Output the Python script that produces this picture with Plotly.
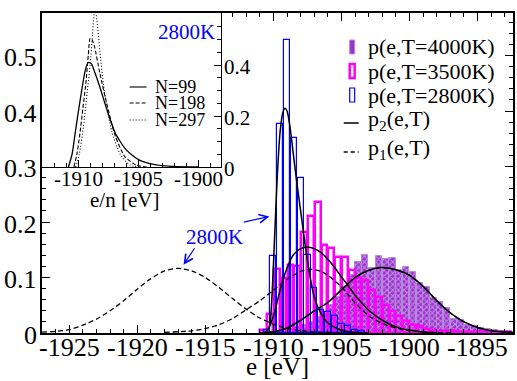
import plotly.graph_objects as go

# ---------------- data ----------------
# histogram 2800K (blue, outline)
e2800 = [-1910.5, -1910.0, -1909.5, -1909.0, -1908.5, -1908.0, -1907.5, -1907.0,
         -1906.5, -1906.0, -1905.5, -1905.0, -1904.5, -1904.0, -1903.5]
h2800 = [0.005, 0.139, 0.376, 0.528, 0.351, 0.279, 0.14, 0.081,
         0.041, 0.038, 0.03, 0.017, 0.012, 0.006, 0.003]

# histogram 3500K (magenta, thick outline)
e3500 = [-1910.75, -1910.25, -1909.75, -1909.25, -1908.75, -1908.25, -1907.75, -1907.25,
         -1906.75, -1906.25, -1905.75, -1905.25, -1904.75, -1904.25, -1903.75, -1903.25,
         -1902.75, -1902.25, -1901.75, -1901.25, -1900.75, -1900.25, -1899.75, -1899.25,
         -1898.75, -1898.25, -1897.75, -1897.25, -1896.75, -1896.25, -1895.75, -1895.25,
         -1894.75, -1894.25, -1893.75, -1893.25, -1892.75]
h3500 = [0.005, 0.035, 0.115, 0.10, 0.122, 0.12, 0.182, 0.211,
         0.236, 0.158, 0.153, 0.137, 0.137, 0.113, 0.10, 0.095,
         0.077, 0.065, 0.05, 0.04, 0.03, 0.022, 0.015, 0.012,
         0.008, 0.006, 0.004, 0.003, 0.003, 0.002, 0.002, 0.002,
         0.002, 0.002, 0.002, 0.002, 0.002]

# histogram 4000K (purple, hatched)
e4000 = [-1908.25, -1907.75, -1907.25, -1906.75, -1906.25, -1905.75, -1905.25, -1904.75,
         -1904.25, -1903.75, -1903.25, -1902.75, -1902.25, -1901.75, -1901.25, -1900.75,
         -1900.25, -1899.75, -1899.25, -1898.75, -1898.25, -1897.75, -1897.25, -1896.75,
         -1896.25, -1895.75, -1895.25, -1894.75, -1894.25, -1893.75, -1893.25, -1892.75]
h4000 = [0.01, 0.015, 0.02, 0.028, 0.035, 0.05, 0.065, 0.083,
         0.104, 0.128, 0.14, 0.117, 0.139, 0.133, 0.135, 0.114,
         0.119, 0.11, 0.09, 0.083, 0.063, 0.056, 0.045, 0.025,
         0.024, 0.014, 0.013, 0.009, 0.008, 0.006, 0.004, 0.003]

# p2 curves (solid)
p2_2800_e = [-1910.6, -1910.3, -1910.1, -1909.9, -1909.7, -1909.5, -1909.3, -1909.15, -1909.0,
             -1908.8, -1908.55, -1908.3, -1908.0, -1907.5, -1907.0, -1906.5, -1906.0, -1905.5,
             -1905.0, -1904.0, -1903.0]
p2_2800_v = [0.0, 0.01, 0.07, 0.18, 0.29, 0.365, 0.398, 0.405, 0.40,
             0.375, 0.325, 0.275, 0.22, 0.13, 0.065, 0.035, 0.018, 0.01,
             0.005, 0.001, 0.0]

p2_3500_e = [-1911.0, -1910.5, -1910.0, -1909.5, -1909.0, -1908.5, -1908.0, -1907.5, -1907.0,
             -1906.5, -1906.0, -1905.5, -1905.0, -1904.5, -1904.0, -1903.5, -1903.0, -1902.0,
             -1901.0, -1900.0, -1899.0, -1898.0]
p2_3500_v = [0.0, 0.003, 0.03, 0.078, 0.117, 0.142, 0.152, 0.155, 0.152,
             0.145, 0.133, 0.118, 0.101, 0.085, 0.068, 0.054, 0.041, 0.023,
             0.011, 0.005, 0.002, 0.0]

p2_4000_e = [-1911.0, -1910.0, -1909.0, -1908.0, -1907.0, -1906.0, -1905.0, -1904.0, -1903.0,
             -1902.1, -1901.0, -1900.0, -1899.0, -1898.0, -1897.0, -1896.0, -1895.0, -1894.0,
             -1893.0, -1892.4]
p2_4000_v = [0.0, 0.002, 0.009, 0.023, 0.040, 0.055, 0.078, 0.10, 0.113,
             0.118, 0.114, 0.104, 0.084, 0.058, 0.036, 0.02, 0.01, 0.004,
             0.002, 0.001]

# p1 curves (dashed)
p1_2800_e = [-1927, -1926, -1925, -1924, -1923, -1922, -1921, -1920, -1919, -1918, -1917,
             -1916, -1915, -1914, -1913, -1912, -1911, -1910, -1909, -1908, -1907, -1905]
p1_2800_v = [0.0015, 0.003, 0.006, 0.014, 0.025, 0.040, 0.058, 0.079, 0.098, 0.112, 0.1166,
             0.112, 0.100, 0.082, 0.062, 0.043, 0.027, 0.016, 0.008, 0.004, 0.002, 0.0]

p1_3500_e = [-1918, -1916, -1915, -1914, -1913, -1912, -1911, -1910, -1909, -1908, -1907.3,
             -1906.5, -1906, -1905, -1904, -1903, -1902, -1901, -1900, -1899, -1897]
p1_3500_v = [0.001, 0.004, 0.008, 0.015, 0.026, 0.042, 0.058, 0.077, 0.097, 0.111, 0.115,
             0.111, 0.104, 0.083, 0.054, 0.031, 0.017, 0.009, 0.004, 0.002, 0.0]

p1_4000_e = [-1911.0, -1910.0, -1909.0, -1908.0, -1907.0, -1906.0, -1905.0, -1904.0, -1903.0,
             -1902.1, -1901.0, -1900.0, -1899.0, -1898.0, -1897.0, -1896.0, -1895.0, -1894.0,
             -1893.0, -1892.4]
p1_4000_v = [0.0, 0.002, 0.009, 0.023, 0.040, 0.055, 0.078, 0.10, 0.113,
             0.118, 0.114, 0.104, 0.084, 0.058, 0.036, 0.02, 0.01, 0.004,
             0.002, 0.001]

# inset curves (2800K, per-atom energy)
n99_e = [-1910.8, -1910.5, -1910.25, -1910.0, -1909.7, -1909.4, -1909.15, -1908.9, -1908.6,
         -1908.2, -1907.6, -1906.9, -1906.0, -1904.9, -1903.5, -1902.1, -1900.0]
n99_v = [0.0, 0.05, 0.13, 0.21, 0.30, 0.38, 0.41, 0.405, 0.37,
         0.315, 0.224, 0.132, 0.067, 0.027, 0.008, 0.002, 0.0]
n198_e = [-1910.35, -1910.1, -1909.85, -1909.6, -1909.35, -1909.15, -1909.0, -1908.85, -1908.65,
          -1908.2, -1907.6, -1906.9, -1906.1, -1905.2, -1904.3]
n198_v = [0.0, 0.05, 0.13, 0.23, 0.33, 0.44, 0.505, 0.50, 0.475,
          0.37, 0.245, 0.12, 0.04, 0.008, 0.0]
n297_e = [-1910.2, -1909.9, -1909.55, -1909.25, -1909.0, -1908.8, -1908.6, -1908.4, -1908.2,
          -1907.8, -1907.2, -1906.5, -1905.7, -1905.1]
n297_v = [0.0, 0.05, 0.16, 0.29, 0.40, 0.52, 0.63, 0.56, 0.46,
          0.29, 0.14, 0.05, 0.008, 0.0]

main_ticks = [-1925, -1920, -1915, -1910, -1905, -1900, -1895]
main_ticktext = ['-1925', '-1920', '-1915', '-1910', '-1905', '-1900', '-1895']
main_yticks = [0, 0.1, 0.2, 0.3, 0.4, 0.5]
main_yticktext = ['0', '0.1', '0.2', '0.3', '0.4', '0.5']
inset_ticks = [-1910, -1905, -1900]
inset_ticktext = ['-1910', '-1905', '-1900']
inset_yticks = [0, 0.2, 0.4]
inset_yticktext = ['0', '0.2', '0.4']

legend_labels = ['p(e,T=4000K)', 'p(e,T=3500K)', 'p(e,T=2800K)',
                 'p<sub>2</sub>(e,T)', 'p<sub>1</sub>(e,T)']
inset_labels = ['N=99', 'N=198', 'N=297']

# ---------------- layout helpers ----------------
W, H = 517, 381
L, R, T, B = 42, 2, 13, 48
PW, PH = W - L - R, H - T - B
FONT = 'Liberation Serif'
BLUE, MAG, PUR = '#0000ff', '#ff00ff', '#9933cc'


def px(x):
    return (x - L) / PW


def py(y):
    return (T + PH - y) / PH


fig = go.Figure()

fig.add_trace(go.Bar(x=e4000, y=h4000, width=0.46, xaxis='x', yaxis='y',
                     marker=dict(color=PUR, line=dict(color='#b48ae0', width=1),
                                 pattern=dict(shape='x', fgcolor='#f3e8fb', size=4, solidity=0.45))))
fig.add_trace(go.Bar(x=e3500, y=h3500, width=0.42, xaxis='x', yaxis='y',
                     marker=dict(color='rgba(0,0,0,0)', line=dict(color=MAG, width=2.5))))
fig.add_trace(go.Bar(x=e2800, y=h2800, width=0.45, xaxis='x', yaxis='y',
                     marker=dict(color='rgba(0,0,0,0)', line=dict(color=BLUE, width=1.2))))

solid = dict(color='black', width=1.5, shape='spline', smoothing=0.6)
dashed = dict(color='black', width=1.3, shape='spline', smoothing=0.6, dash='5px,3px')
for ex, vy in [(p2_2800_e, p2_2800_v), (p2_3500_e, p2_3500_v), (p2_4000_e, p2_4000_v)]:
    fig.add_trace(go.Scatter(x=ex, y=vy, mode='lines', line=solid, xaxis='x', yaxis='y'))
for ex, vy in [(p1_2800_e, p1_2800_v), (p1_3500_e, p1_3500_v), (p1_4000_e, p1_4000_v)]:
    fig.add_trace(go.Scatter(x=ex, y=vy, mode='lines', line=dashed, xaxis='x', yaxis='y'))

fig.add_trace(go.Scatter(x=n99_e, y=n99_v, mode='lines', xaxis='x2', yaxis='y2',
                         line=dict(color='black', width=1.3, shape='spline', smoothing=0.6)))
fig.add_trace(go.Scatter(x=n198_e, y=n198_v, mode='lines', xaxis='x2', yaxis='y2',
                         line=dict(color='black', width=1.1, shape='spline', smoothing=0.6, dash='4px,2px')))
fig.add_trace(go.Scatter(x=n297_e, y=n297_v, mode='lines', xaxis='x2', yaxis='y2',
                         line=dict(color='black', width=1.1, shape='spline', smoothing=0.6, dash='1px,2px')))

axcommon = dict(showgrid=False, zeroline=False, showline=True, linecolor='black',
                ticks='inside', tickcolor='black', tickwidth=1, showticklabels=False)

fig.update_layout(
    width=W, height=H, autosize=False,
    margin=dict(l=L, r=R, t=T, b=B, pad=0),
    paper_bgcolor='white', plot_bgcolor='white',
    showlegend=False, barmode='overlay', bargap=0,
    font=dict(family=FONT, color='black'),
    xaxis=dict(axcommon, domain=[0, 1], anchor='y', range=[-1927, -1892.4],
               tickmode='array', tickvals=main_ticks,
               ticklen=8, linewidth=1.5, mirror='ticks',
               minor=dict(tickmode='linear', tick0=-1925, dtick=1, ticklen=4, ticks='inside',
                          tickcolor='black')),
    yaxis=dict(axcommon, domain=[0, 1], anchor='x', range=[0, PH / 555],
               tickmode='array', tickvals=main_yticks,
               ticklen=8, linewidth=1.5, mirror='ticks',
               minor=dict(tickmode='linear', tick0=0, dtick=0.02, ticklen=4, ticks='inside',
                          tickcolor='black')),
    xaxis2=dict(axcommon, domain=[0, px(222)], anchor='y2', range=[-1913, -1898.1],
                tickmode='array', tickvals=inset_ticks,
                ticklen=7, linewidth=1.2, mirror=True,
                minor=dict(tickmode='linear', tick0=-1910, dtick=1, ticklen=4, ticks='inside',
                           tickcolor='black')),
    yaxis2=dict(axcommon, domain=[py(167), 1], anchor='x2', side='right', range=[0, 154 / 255],
                tickmode='array', tickvals=inset_yticks,
                ticklen=7, linewidth=1.2, mirror=True,
                minor=dict(tickmode='linear', tick0=0, dtick=0.05, ticklen=4, ticks='inside',
                           tickcolor='black')),
)

ann = []
shapes = []

# tick labels (placed through the axes' own data scales)
for v, t in zip(main_ticks, main_ticktext):
    ann.append(dict(text=t, x=v, xref='x', y=py(347), yref='paper', showarrow=False,
                    xanchor='center', yanchor='middle', font=dict(size=26)))
for v, t in zip(main_yticks, main_yticktext):
    ann.append(dict(text=t, x=px(39), xref='paper', y=v, yref='y', yshift=-2, showarrow=False,
                    xanchor='right', yanchor='middle', font=dict(size=26)))
for v, t in zip(inset_ticks, inset_ticktext):
    ann.append(dict(text=t, x=v, xref='x2', y=py(179), yref='paper', showarrow=False,
                    xanchor='center', yanchor='middle', font=dict(size=21)))
for v, t in zip(inset_yticks, inset_yticktext):
    ann.append(dict(text=t, x=px(223), xref='paper', y=v, yref='y2', yshift=-2, showarrow=False,
                    xanchor='left', yanchor='middle', font=dict(size=21)))

# axis titles
ann.append(dict(text='e [eV]', x=px(278), y=py(366), xref='paper', yref='paper',
                showarrow=False, xanchor='center', yanchor='middle', font=dict(size=25)))
ann.append(dict(text='e/n [eV]', x=px(125), y=py(200), xref='paper', yref='paper',
                showarrow=False, xanchor='center', yanchor='middle', font=dict(size=21)))
# 2800K labels
ann.append(dict(text='2800K', x=px(187), y=py(32), xref='paper', yref='paper',
                showarrow=False, xanchor='center', yanchor='middle', font=dict(size=21, color=BLUE)))
ann.append(dict(text='2800K', x=px(215), y=py(237), xref='paper', yref='paper',
                showarrow=False, xanchor='center', yanchor='middle', font=dict(size=21, color=BLUE)))
# arrows
ann.append(dict(text='', x=-1910.3, y=0.21, xref='x', yref='y', ax=-27, ay=6,
                showarrow=True, arrowhead=5, arrowsize=1.4, arrowwidth=1.2, arrowcolor=BLUE))
ann.append(dict(text='', x=-1916.6, y=0.123, xref='x', yref='y', ax=12, ay=-18,
                showarrow=True, arrowhead=5, arrowsize=1.4, arrowwidth=1.2, arrowcolor=BLUE))

# main legend
leg_y = [47, 71, 95, 120, 149]
for lab, yy in zip(legend_labels, leg_y):
    ann.append(dict(text=lab, x=px(367), y=py(yy), xref='paper', yref='paper',
                    showarrow=False, xanchor='left', yanchor='middle', font=dict(size=22)))
shapes.append(dict(type='rect', xref='paper', yref='paper', x0=px(351), x1=px(356),
                   y0=py(54), y1=py(40), fillcolor=PUR, line=dict(color='#b48ae0', width=1)))
shapes.append(dict(type='rect', xref='paper', yref='paper', x0=px(351), x1=px(356),
                   y0=py(78), y1=py(64), fillcolor='rgba(0,0,0,0)', line=dict(color=MAG, width=2.5)))
shapes.append(dict(type='rect', xref='paper', yref='paper', x0=px(351), x1=px(356),
                   y0=py(102), y1=py(88), fillcolor='rgba(0,0,0,0)', line=dict(color=BLUE, width=1.2)))
shapes.append(dict(type='line', xref='paper', yref='paper', x0=px(345), x1=px(360),
                   y0=py(123), y1=py(123), line=dict(color='black', width=1.5)))
shapes.append(dict(type='line', xref='paper', yref='paper', x0=px(345), x1=px(360),
                   y0=py(152), y1=py(152), line=dict(color='black', width=1.3, dash='4px,3px')))

# inset legend
ins_y = [87, 103, 120]
ins_dash = ['solid', '4px,2px', '1px,2px']
for lab, yy, dd in zip(inset_labels, ins_y, ins_dash):
    ann.append(dict(text=lab, x=px(153), y=py(yy), xref='paper', yref='paper',
                    showarrow=False, xanchor='left', yanchor='middle', font=dict(size=18)))
    shapes.append(dict(type='line', xref='paper', yref='paper', x0=px(130), x1=px(147),
                       y0=py(yy), y1=py(yy), line=dict(color='black', width=1.1, dash=dd)))

fig.update_layout(annotations=ann, shapes=shapes)
fig.write_html('out.html', config={'displayModeBar': False},
               post_script="document.body.style.margin='0px';")
